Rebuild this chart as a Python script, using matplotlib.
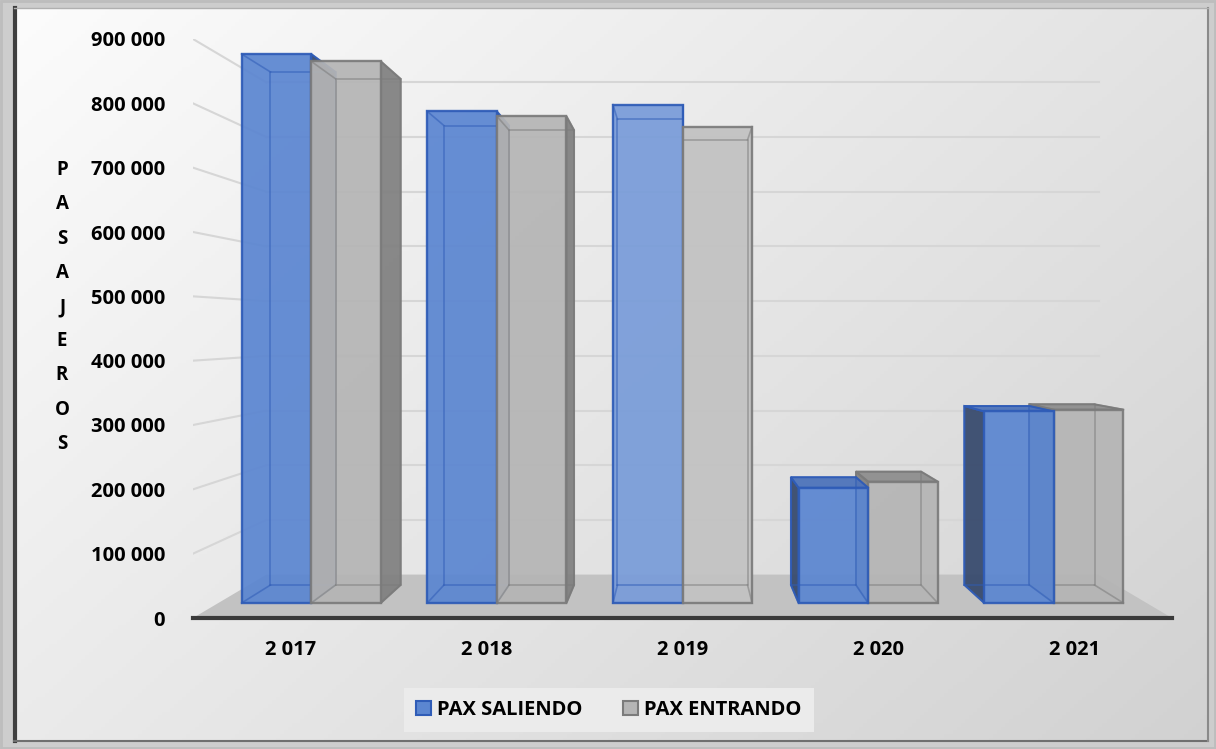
import numpy as np
import matplotlib.pyplot as plt
from matplotlib.patches import Polygon, Patch, Rectangle

plt.rcParams['font.family'] = ['Open Sans', 'DejaVu Sans']
plt.rcParams['font.weight'] = 'bold'

# pasajeros por año
years = ["2 017", "2 018", "2 019", "2 020", "2 021"]
pax_saliendo = [900000, 806000, 817000, 189000, 314000]
pax_entrando = [888000, 798000, 781000, 199000, 317000]
series_names = ["PAX SALIENDO", "PAX ENTRANDO"]
y_ticks = list(range(0, 900001, 100000))

# estilo 3D
VX, VV = 2.0, 450000.0      # punto de fuga (en coordenadas de datos)
BACK = 0.85                 # escala de la pared del fondo
T0, T1 = 0.345, 0.76        # profundidad de las columnas
BW = 0.375                  # ancho de cada columna

blue = dict(front='#5b86d1', edge='#2f5cb7', side='#34476b', top='#4e74ba')
gray = dict(front='#b5b5b5', edge='#7b7b7b', side='#7f7f7f', top='#8e8e8e')


def proj(x, v, t):
    s = 1 - (1 - BACK) * t
    return VX + (x - VX) * s, VV + (v - VV) * s


def lighten(c, f):
    r, g, b = plt.matplotlib.colors.to_rgb(c)
    return (r + (1 - r) * f, g + (1 - g) * f, b + (1 - b) * f)


def draw_box(ax, x0, x1, v, sty, light, z):
    fc = lighten(sty['front'], light)
    pts = lambda corners: [proj(*c) for c in corners]
    # cara lateral visible
    if x1 <= VX:
        side = pts([(x1, 0, T0), (x1, 0, T1), (x1, v, T1), (x1, v, T0)])
    elif x0 >= VX:
        side = pts([(x0, 0, T0), (x0, 0, T1), (x0, v, T1), (x0, v, T0)])
    else:
        side = None
    if side is not None:
        ax.add_patch(Polygon(side, closed=True, fc=sty['side'], ec=sty['edge'],
                             lw=1.4, alpha=0.92, zorder=z))
    if v < VV:
        top = pts([(x0, v, T0), (x1, v, T0), (x1, v, T1), (x0, v, T1)])
        ax.add_patch(Polygon(top, closed=True, fc=sty['top'], ec=sty['edge'],
                             lw=1.4, alpha=0.95, zorder=z))
    front = pts([(x0, 0, T0), (x1, 0, T0), (x1, v, T0), (x0, v, T0)])
    ax.add_patch(Polygon(front, closed=True, fc=fc, ec=sty['edge'],
                         lw=1.7, alpha=0.93, zorder=z + 0.1))
    # aristas traseras vistas a través de la transparencia
    back = pts([(x0, 0, T1), (x1, 0, T1), (x1, v, T1), (x0, v, T1), (x0, 0, T1)])
    bx, by = zip(*back)
    ax.plot(bx, by, color=sty['edge'], lw=1.2, alpha=0.55, zorder=z + 0.2)
    for cx in (x0, x1):
        for cv in (0, v):
            p, q = proj(cx, cv, T0), proj(cx, cv, T1)
            ax.plot([p[0], q[0]], [p[1], q[1]], color=sty['edge'], lw=1.2,
                    alpha=0.55, zorder=z + 0.2)


W, H = 1216, 749
fig = plt.figure(figsize=(W / 100, H / 100), dpi=100)

# fondo degradado y marco
bg = fig.add_axes([0, 0, 1, 1])
u = np.linspace(0, 1, 300)[None, :]
w = np.linspace(0, 1, 200)[:, None]
shade = 0.99 - 0.10 * u - 0.07 * w
bg.imshow(np.dstack([shade] * 3), extent=[0, W, H, 0], aspect='auto', zorder=0)
bg.set_xlim(0, W)
bg.set_ylim(H, 0)
bg.axis('off')
frame = '#cdcdcd'
for r in [(0, 0, W, 8), (0, 741, W, 8), (0, 0, 13, H), (1208, 0, 8, H)]:
    bg.add_patch(Rectangle(r[:2], r[2], r[3], fc=frame, ec='none', zorder=1))
bg.plot([14.5, 14.5], [8, 741], color='#3f3f3f', lw=3, zorder=2)
bg.plot([14, 1208], [741, 741], color='#6f6f6f', lw=1.5, zorder=2)
bg.plot([1208, 1208], [8, 741], color='#8a8a8a', lw=1.5, zorder=2)
bg.plot([14, 1208], [8, 8], color='#b0b0b0', lw=1, zorder=2)
bg.add_patch(Rectangle((1, 1), W - 2, H - 2, fc='none', ec='#bdbdbd', lw=2, zorder=2))

ax = fig.add_axes([193 / W, (H - 618) / H, 979 / W, 579 / H])
ax.patch.set_alpha(0)
ax.set_xlim(-0.5, 4.5)
ax.set_ylim(0, 900000)
n = len(years)

# líneas de división: pared lateral y pared del fondo
for v in y_ticks[1:]:
    p, q = proj(-0.5, v, 0), proj(-0.5, v, 1)
    ax.plot([p[0], q[0]], [p[1], q[1]], color='#d6d6d6', lw=1.5, zorder=1)
    r = proj(n - 0.5, v, 1)
    ax.plot([q[0], r[0]], [q[1], r[1]], color='#d6d6d6', lw=1.5, zorder=1)

# piso
floor = [proj(-0.5, 0, 0), proj(n - 0.5, 0, 0), proj(n - 0.5, 0, 1), proj(-0.5, 0, 1)]
ax.add_patch(Polygon(floor, closed=True, fc='#c2c2c2', ec='none', zorder=2))

# columnas, de la más alejada del centro a la más cercana
boxes = []
for i in range(n):
    light = 0.18 * max(0.0, 1 - abs(i - VX))
    boxes.append((i - BW, i, pax_saliendo[i], blue, light))
    boxes.append((i, i + BW, pax_entrando[i], gray, light))
boxes.sort(key=lambda b: -abs((b[0] + b[1]) / 2 - VX))
for k, (x0, x1, v, sty, light) in enumerate(boxes):
    draw_box(ax, x0, x1, v, sty, light, 3 + k)

for s in ('left', 'top', 'right'):
    ax.spines[s].set_visible(False)
ax.spines['bottom'].set_color('#3a3a3a')
ax.spines['bottom'].set_linewidth(3)
ax.spines['bottom'].set_zorder(50)
ax.set_yticks(y_ticks)
ax.set_yticklabels([f"{t:,}".replace(",", " ") for t in y_ticks])
ax.set_xticks(range(n))
ax.set_xticklabels(years)
ax.tick_params(axis='y', length=0, pad=20, labelsize=14.5)
ax.tick_params(axis='x', length=0, pad=16, labelsize=14.5)

fig.text(62 / W, 1 - 307 / H, "\n".join("PASAJEROS"), ha='center', va='center',
         fontsize=13.5, fontweight='bold', linespacing=1.95)

handles = [Patch(fc=blue['front'], ec=blue['edge'], lw=1.5),
           Patch(fc=gray['front'], ec=gray['edge'], lw=1.5)]
fig.legend(handles, series_names, loc='center', bbox_to_anchor=(609 / W, 1 - 710 / H),
           ncol=2, frameon=True, facecolor='#ebebeb', edgecolor='none', fancybox=False,
           framealpha=1, handlelength=0.75, handleheight=0.75, handletextpad=0.3,
           columnspacing=2.0, prop={'size': 14.5, 'weight': 'bold'}, borderpad=0.6)

fig.savefig('out.png', dpi=100)
